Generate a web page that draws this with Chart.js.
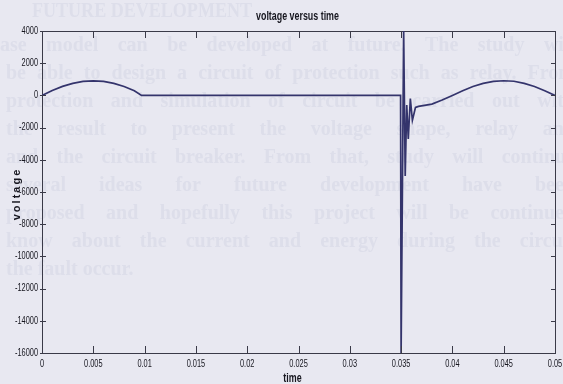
<!DOCTYPE html>
<html>
<head>
<meta charset="utf-8">
<script src="https://cdn.jsdelivr.net/npm/chart.js@4/dist/chart.umd.min.js"></script>
<style>
  html, body { margin: 0; padding: 0; background: #e8e8f1; }
  canvas { display: block; }
</style>
</head>
<body>
<canvas id="voltage-chart" width="563" height="384"></canvas>
<script>
// Time samples (s) and the voltage read at each one
const times = [
  0, 0.001, 0.002, 0.003, 0.004, 0.005, 0.006, 0.007, 0.008, 0.009, 0.0097,
  0.015, 0.02, 0.025, 0.03, 0.03495,
  0.0350, 0.03525, 0.0354, 0.03555, 0.0357, 0.0359, 0.0361, 0.0364, 0.0367,
  0.038, 0.039, 0.040, 0.041, 0.042, 0.043, 0.044, 0.045, 0.046, 0.047, 0.048, 0.049, 0.050
];
const voltages = [
  0, 300, 560, 750, 870, 900, 870, 750, 550, 290, 0,
  0, 0, 0, 0, 0,
  -16000, 4000, -5000, -600, -2700, -200, -1550, -750, -680,
  -540, -290, 0, 290, 550, 750, 870, 910, 880, 750, 550, 290, 0
];

// Axis ticks
const xTicks = [0, 0.005, 0.01, 0.015, 0.02, 0.025, 0.03, 0.035, 0.04, 0.045, 0.05];
const xTickLabels = ['0', '0.005', '0.01', '0.015', '0.02', '0.025', '0.03', '0.035', '0.04', '0.045', '0.05'];
const yTicks = [4000, 2000, 0, -2000, -4000, -6000, -8000, -10000, -12000, -14000, -16000];
const yTickLabels = ['4000', '2000', '0', '-2000', '-4000', '-6000', '-8000', '-10000', '-12000', '-14000', '-16000'];

const chartTitle = 'voltage versus time';
const xTitle = 'time';
const yTitle = 'voltage';

// Faint text showing through the scanned page
const ghostHeading = 'FUTURE DEVELOPMENT';
const ghostLines = [
  'ase model can be developed at future. The study will',
  'be able to design a circuit of protection such as relay. From',
  'protection and simulation of circuit be carried out with',
  'the result to present the voltage shape, relay and',
  'and the circuit breaker. From that, study will continue',
  'several ideas for future development have been',
  'proposed and hopefully this project will be continued',
  'know about the current and energy during the circuit',
  'the fault occur.'
];

const AXIS = '#3a3a48';
const INK = '#16161f';
const LINE = '#34346c';
const SQUEEZE = 0.74; // MATLAB export uses a narrow Helvetica

// Paper colour and bleed-through text
const paperPlugin = {
  id: 'paper',
  beforeDraw: (chart) => {
    const ctx = chart.ctx;
    ctx.save();
    ctx.fillStyle = '#e8e8f1';
    ctx.fillRect(0, 0, chart.width, chart.height);
    ctx.fillStyle = '#dddeea';
    ctx.textBaseline = 'middle';
    ctx.font = 'bold 20px "Liberation Serif", serif';
    ctx.fillText(ghostHeading, 32, 12, 220);
    ghostLines.forEach((text, i) => {
      const y = 46 + i * 28;
      const words = text.split(' ');
      const last = i === ghostLines.length - 1;
      const x0 = i === 0 ? 0 : 6;
      const x1 = 575;
      const widths = words.map(w => ctx.measureText(w).width);
      const total = widths.reduce((a, b) => a + b, 0);
      const space = ctx.measureText(' ').width;
      const gap = last ? space : Math.max(space, (x1 - x0 - total) / (words.length - 1));
      let x = x0;
      words.forEach((w, j) => {
        ctx.fillText(w, x, y);
        x += widths[j] + gap;
      });
    });
    ctx.restore();
  }
};

// Draw narrow text aligned on a point
const narrowText = (ctx, text, x, y, align, font) => {
  ctx.save();
  ctx.translate(x, y);
  ctx.scale(SQUEEZE, 1);
  ctx.font = font;
  ctx.textAlign = align;
  ctx.textBaseline = 'middle';
  ctx.fillText(text, 0, 0);
  ctx.restore();
};

// MATLAB-style inward ticks, tick labels and titles
const framePlugin = {
  id: 'frame',
  afterDraw: (chart) => {
    const ctx = chart.ctx;
    const { left, right, top, bottom } = chart.chartArea;
    const xs = chart.scales.x;
    const ys = chart.scales.y;
    ctx.save();
    ctx.strokeStyle = AXIS;
    ctx.lineWidth = 1;
    ctx.beginPath();
    xTicks.forEach(v => {
      const px = Math.round(xs.getPixelForValue(v)) + 0.5;
      ctx.moveTo(px, bottom);
      ctx.lineTo(px, bottom - 7);
      ctx.moveTo(px, top);
      ctx.lineTo(px, top + 7);
    });
    yTicks.forEach(v => {
      const py = Math.round(ys.getPixelForValue(v)) + 0.5;
      ctx.moveTo(left - 2, py);
      ctx.lineTo(left + 4, py);
      ctx.moveTo(right, py);
      ctx.lineTo(right - 4, py);
    });
    ctx.stroke();

    ctx.fillStyle = INK;
    const tickFont = '10px "Liberation Sans", sans-serif';
    xTicks.forEach((v, i) => {
      narrowText(ctx, xTickLabels[i], xs.getPixelForValue(v), bottom + 11, 'center', tickFont);
    });
    yTicks.forEach((v, i) => {
      narrowText(ctx, yTickLabels[i], left - 4, ys.getPixelForValue(v), 'right', tickFont);
    });

    const titleFont = 'bold 12px "Liberation Sans", sans-serif';
    narrowText(ctx, chartTitle, (left + right) / 2 - 1, 17, 'center', titleFont);
    narrowText(ctx, xTitle, (left + right) / 2 - 6, 379, 'center', titleFont);

    ctx.translate(17, (top + bottom) / 2 + 2);
    ctx.rotate(-Math.PI / 2);
    ctx.font = 'bold 11px "Liberation Sans", sans-serif';
    ctx.letterSpacing = '2px';
    ctx.textAlign = 'center';
    ctx.textBaseline = 'middle';
    ctx.fillText(yTitle, 0, 0);
    ctx.restore();
  }
};

const points = times.map((t, i) => ({ x: t, y: voltages[i] }));

const hiddenGrid = { display: true, drawOnChartArea: false, drawTicks: false };
const border = { display: true, color: AXIS, width: 1 };

new Chart(document.getElementById('voltage-chart').getContext('2d'), {
  type: 'scatter',
  data: {
    datasets: [{
      data: points,
      showLine: true,
      borderColor: LINE,
      borderWidth: 1.7,
      pointRadius: 0,
      tension: 0
    }]
  },
  options: {
    responsive: false,
    animation: false,
    layout: { padding: 0 },
    plugins: {
      legend: { display: false },
      tooltip: { enabled: false },
      title: { display: false }
    },
    scales: {
      x: {
        type: 'linear',
        position: 'bottom',
        min: 0,
        max: 0.05,
        afterBuildTicks: s => { s.ticks = xTicks.map(v => ({ value: v })); },
        afterFit: s => { s.height = 31; },
        grid: hiddenGrid,
        border: border,
        ticks: { display: false }
      },
      x2: {
        type: 'linear',
        position: 'top',
        min: 0,
        max: 0.05,
        afterFit: s => { s.height = 31; },
        grid: hiddenGrid,
        border: border,
        ticks: { display: false }
      },
      y: {
        type: 'linear',
        position: 'left',
        min: -16000,
        max: 4000,
        afterBuildTicks: s => { s.ticks = yTicks.map(v => ({ value: v })); },
        afterFit: s => { s.width = 42; },
        grid: hiddenGrid,
        border: border,
        ticks: { display: false }
      },
      y2: {
        type: 'linear',
        position: 'right',
        min: -16000,
        max: 4000,
        afterFit: s => { s.width = 8; },
        grid: hiddenGrid,
        border: border,
        ticks: { display: false }
      }
    }
  },
  plugins: [paperPlugin, framePlugin]
});
</script>
</body>
</html>
